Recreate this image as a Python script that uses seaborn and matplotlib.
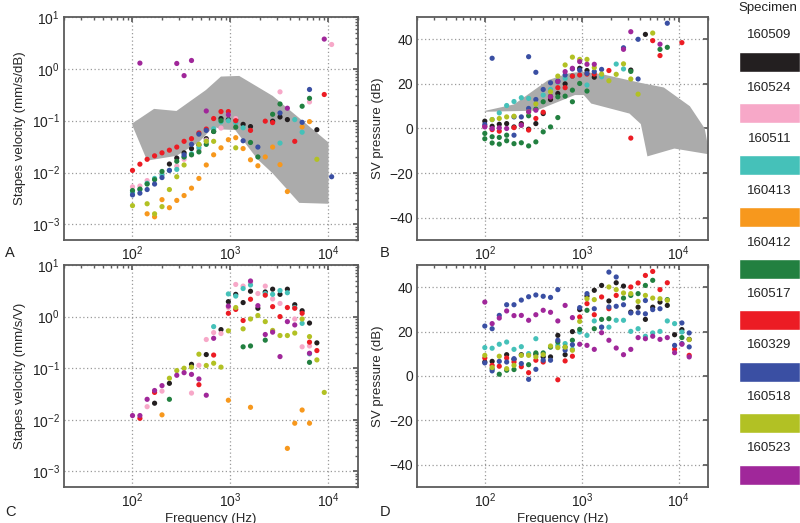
import numpy as np
import pandas as pd
import seaborn as sns
import matplotlib
matplotlib.use("Agg")
from matplotlib import pyplot as plt

# quarter-octave test frequencies (Hz)
freqs = [100, 119, 141, 168, 200, 238, 283, 336, 400, 476, 566, 673, 800, 951, 1131,
         1345, 1600, 1903, 2263, 2691, 3200, 3805, 4525, 5382, 6400, 7611, 9051, 10763, 12800]

specimens = ["160509", "160524", "160511", "160413", "160412",
             "160517", "160329", "160518", "160523"]
colors = ["#231f20", "#f7a8c8", "#45c1b9", "#f7981d", "#228040",
          "#ec1c24", "#3a4fa3", "#b2c124", "#a0279a"]

# values keyed by index into freqs
# --- A: stapes velocity (mm/s/dB)
a_160509 = {5: .0146, 6: .019, 7: .024, 8: .029, 9: .034, 10: .045, 11: .062, 12: .11, 13: .105,
            14: .105, 15: .085, 16: .077, 19: .098, 20: .118, 21: .105, 25: .067}
a_160524 = {0: .0053, 1: .0055, 2: .007, 4: .0095, 6: .0133, 7: .018, 8: .022, 9: .027, 10: .042,
            11: .068, 12: .072, 13: .13, 14: .11, 20: .36, 24: .23, 27: 2.95}
a_160511 = {0: .0041, 1: .0047, 2: .0062, 3: .0077, 4: .009, 5: .011, 6: .0115, 7: .02, 8: .023,
            9: .03, 10: .04, 11: .07, 12: .095, 13: .1, 14: .09, 15: .073, 20: .037, 22: .105, 23: .06}
a_160413 = {2: .0016, 3: .0014, 4: .003, 5: .0021, 6: .0029, 7: .0036, 8: .005, 9: .0077, 10: .014,
            11: .022, 12: .03, 13: .043, 14: .047, 15: .029, 16: .0176, 17: .0135, 18: .02, 19: .031,
            20: .0142, 21: .0043, 23: .076, 24: .096}
a_160412 = {0: .0045, 1: .0048, 2: .006, 3: .0073, 4: .0105, 6: .0165, 7: .02, 8: .022, 9: .025,
            10: .035, 11: .062, 12: .1, 14: .075, 16: .038, 17: .02, 19: .133, 20: .21, 23: .19, 24: .27}
a_160517 = {0: .011, 1: .0145, 2: .018, 3: .021, 4: .024, 5: .027, 6: .031, 7: .040, 8: .045,
            9: .058, 10: .069, 11: .11, 12: .15, 13: .15, 14: .10, 16: .065, 18: .098, 19: .092,
            22: .04, 26: .32}
a_160329 = {0: .0037, 1: .004, 2: .0047, 3: .006, 4: .008, 5: .011, 7: .022, 8: .035, 9: .055,
            10: .065, 15: .041, 17: .031, 20: .141, 23: .093, 24: .40, 27: .0083}
a_160518 = {0: .0023, 2: .0025, 3: .0016, 4: .0022, 5: .0047, 6: .0083, 7: .014, 9: .035, 10: .04,
            11: .04, 14: .03, 25: .018}
a_160523 = {1: 1.29, 6: 1.27, 7: .74, 8: 1.45, 10: .154, 13: .13, 21: .174, 26: 3.75}

band_a_up_f = [100, 166, 281, 561, 799, 1228, 2700, 10000]
band_a_up = [.089, .169, .154, .39, .71, .73, .30, .038]
band_a_lo_f = [100, 141, 281, 480, 673, 800, 1117, 1340, 1890, 2700, 5030, 10000]
band_a_lo = [.08, .017, .021, .039, .077, .068, .066, .042, .018, .0096, .0026, .0025]

# --- B: SV pressure (dB re sound)
b_160509 = {0: 3.3, 1: 1.0, 2: 1.9, 3: 2.2, 4: 0.7, 5: 2.2, 6: -0.3, 7: 2.2, 8: 6.7, 9: 13, 10: 15.7,
            11: 20, 12: 23.5, 13: 27, 14: 26, 15: 23, 20: 26.2, 22: 42.2}
b_160511 = {1: 4.0, 2: 7.0, 3: 10.3, 4: 12.1, 5: 13.8, 6: 13.5, 8: 15, 9: 17.5, 10: 20.8, 11: 22.5,
            12: 23.5, 13: 24, 14: 19.5, 16: 23.2, 18: 28.9, 19: 26.7}
b_160412 = {0: -2.2, 1: -3.7, 2: -4, 3: -3, 6: 5.7, 7: 8.7, 8: 12, 9: 14.5, 10: 14.2, 11: 14.5,
            12: 17.2, 13: 20.2, 14: 16.8, 20: 25.6, 24: 35.5, 25: 36.4}
b_160412_2 = {0: -4.6, 1: -6.5, 2: -7.0, 3: -5.5, 4: -6.8, 5: -6.4, 6: -7.8, 7: -6, 8: -1.5,
              9: 0.7, 10: 4.9, 12: 12}
b_160517 = {0: 1.0, 1: -0.5, 2: -1.2, 4: 0.4, 5: 1.5, 6: -0.7, 7: 4.5, 8: 7.3, 9: 14.2, 10: 18.3,
            11: 18.3, 12: 23.5, 13: 24, 14: 24.4, 15: 24.4, 17: 26, 20: -4.3, 23: 39.4, 24: 32.7, 27: 38.5}
b_160329 = {0: 1.8, 4: 5.2, 5: 5.2, 6: 9, 7: 13, 8: 17.5, 9: 20.5, 10: 21.3, 11: 24, 12: 26.7,
            13: 26.2, 14: 24.7, 15: 25.5, 16: 26.5, 19: 36.2, 21: 40, 25: 47.2}
b_160329_2 = {1: 31.5, 4: -3, 6: 32.2, 7: 25.2, 21: 22.2}
b_160518 = {1: 4, 2: 4.5, 3: 5.2, 4: 5.5, 6: 7.5, 7: 11, 9: 16.5, 10: 23.5, 11: 28.5, 12: 32, 13: 31,
            14: 31, 15: 27.3, 16: 24.4, 17: 21.4, 18: 24.3, 19: 29, 20: 22.2, 21: 15.4, 23: 42.8}
b_160523 = {0: 0.7, 1: 0, 2: 0.3, 3: 0, 5: 1.5, 6: 7.5, 7: 8.2, 9: 14.2, 10: 21, 11: 25.5, 12: 27,
            13: 30, 14: 28.8, 15: 28.8, 19: 35.5, 20: 43.4, 24: 37.8}

band_b_up_f = [100, 200, 450, 730, 1000, 1600, 4000, 7000, 13000, 18500, 20000]
band_b_up = [7.9, 10.8, 21.7, 24.7, 25.5, 24.4, 20.5, 18.4, 10, 0, -8]
band_b_lo_f = [100, 340, 850, 1050, 1250, 3100, 4060, 4750, 9000, 20000]
band_b_lo = [7.5, 8, 15, 15, 11.2, 6.7, 2, -12.5, -9, -11.5]

# --- C: stapes velocity (mm/s/V)
c_160509 = {3: .021, 5: .051, 8: .119, 10: .184, 12: .56, 13: 1.95, 14: 2.7, 15: 1.87, 16: 3.1,
            17: 1.45, 18: 3.0, 19: 3.4, 20: 2.7, 21: 3.4, 22: 1.7, 23: 1.3, 24: .75, 25: .31}
c_160524 = {2: .018, 4: .036, 8: .033, 9: .114, 10: .36, 11: .49, 12: .47, 13: 1.5, 14: 4.2, 15: 3.9,
            16: 4.6, 17: 2.8, 18: 3.9, 19: 2.2, 20: 1.8, 22: .9, 23: .26, 24: .27}
c_160511 = {11: .64, 13: 2.75, 14: 2.5, 15: 3.5, 16: 4.1, 18: 2.8, 19: 2.7, 20: 3.2, 21: 2.9,
            22: 1.5, 23: .74, 24: .19}
c_160413 = {4: .0125, 13: .024, 16: .0175, 21: .0028, 22: .0086, 23: .0155, 24: .0086}
c_160412 = {5: .025, 15: .26, 16: .27, 18: .35, 24: .13}
c_160517 = {1: .0107, 3: .034, 9: .048, 11: .18, 13: 1.16, 14: 1.38, 15: .84, 16: 2.17, 18: 2.6,
            19: 1.56, 20: 1.0, 21: 1.5, 22: 1.45, 23: 1.16, 24: .32, 25: .22}
c_160518 = {5: .064, 6: .09, 7: .1, 8: .105, 9: .187, 10: .113, 11: .125, 12: .105, 13: .53,
            14: 1.5, 15: .58, 16: .9, 17: 1.05, 18: .8, 19: .54, 20: .43, 21: .43, 22: .48, 23: .9,
            24: .41, 25: .145, 26: .034}
c_160523 = {0: .0121, 1: .0121, 2: .025, 3: .037, 4: .046, 6: .073, 7: .082, 8: .076, 9: .062,
            10: .030, 11: .38, 13: 1.6, 16: 4.9, 17: 1.63, 18: .45, 19: .5, 20: .168, 21: .8,
            22: .69, 24: .195}

# --- D: SV pressure (dB re stimulation)
d_160509 = {0: 6.3, 1: 6.6, 3: 9.6, 4: 7.5, 5: 9.6, 7: 9.8, 8: 8.6, 9: 8.6, 10: 18.3, 11: 9.6,
            12: 20, 13: 29.9, 14: 36, 15: 38.6, 16: 40.8, 17: 33.8, 18: 42, 19: 40.5, 20: 28.8,
            21: 31, 22: 25.5, 23: 31, 24: 33.3, 25: 31.8, 26: 18.6, 27: 20.9, 28: 16.5}
d_160511 = {0: 12.8, 1: 12.5, 2: 14.3, 3: 15.3, 4: 12, 5: 13.2, 6: 10.1, 7: 16.8, 10: 13.8,
            11: 14.6, 12: 12, 13: 19.8, 14: 18.3, 15: 24.8, 16: 22, 17: 22, 18: 25.1, 19: 25.1,
            20: 20.1, 21: 21.3, 22: 17.9, 23: 19.4, 24: 20.1, 25: 24.8, 26: 23.6, 27: 19.8}
d_160412 = {1: 3.2, 2: 0.8, 3: 2.6, 4: 2.9, 6: 5.1, 7: 10.4, 8: 10.4, 9: 13, 10: 15.3, 11: 13,
            12: 16.1, 13: 21, 14: 29.6, 15: 21.3, 16: 25.5, 17: 25.8, 19: 35.1, 20: 36.3, 21: 37.1,
            22: 40.8, 23: 43.1, 25: 34.4, 27: 17.3}
d_160517 = {0: 8.1, 1: 4.8, 2: 4.4, 3: 8.1, 4: 6.3, 5: 4.2, 6: 1.5, 7: 7.1, 8: 6.3, 10: -1.7,
            11: 6.8, 12: 8.9, 13: 26.6, 14: 32.6, 15: 27.6, 16: 35.6, 17: 30.3, 18: 36.3, 20: 40.1,
            21: 41.9, 22: 45.3, 23: 47.1, 24: 38.9, 25: 42, 26: 12, 28: 9.3}
d_160329 = {0: 22.5, 1: 21.3, 2: 27.3, 3: 32.1, 4: 32.1, 5: 34.2, 6: 35.7, 7: 36.5, 8: 35.9,
            9: 35.4, 10: 38.9, 13: 30.8, 14: 37.1, 17: 46.8, 18: 44.6, 19: 32.1, 22: 34, 23: 29.9,
            24: 30.3, 26: 13.8, 27: 23.9, 28: 19.4}
d_160329_2 = {0: 5.9, 1: 2.3, 2: 6.6, 3: 6.3, 4: 7.8, 5: 5.6, 6: -1.5, 7: 3.0, 8: 7.1, 9: 7.1,
              10: 16.1, 11: 11.6, 12: 14.1, 15: 30.3, 16: 22, 17: 31.1, 18: 31.4, 20: 28.4,
              21: 28.5, 22: 28, 27: 14.6, 28: 13.1}
d_160518 = {0: 9.3, 1: 3.8, 2: 8.9, 3: 3.3, 4: 4.8, 5: 9.3, 6: 9.3, 7: 8.6, 8: 9.6, 9: 13.5,
            10: 12.8, 11: 13, 12: 11.6, 13: 24.6, 14: 34.8, 15: 34.4, 17: 40.1, 18: 38.9, 19: 37.4,
            20: 37.1, 21: 33.6, 22: 36.3, 23: 35.1, 24: 34.8, 25: 34.1, 28: 16.4}
d_160523 = {0: 33.3, 1: 23.6, 2: 26.1, 3: 29.3, 4: 27.2, 5: 27.3, 6: 25.1, 7: 27.6, 8: 29.6,
            9: 28.7, 10: 24.8, 11: 31.8, 12: 26.3, 13: 14.3, 14: 13.8, 15: 12, 16: 19.5, 17: 16.1,
            18: 12.6, 19: 9.6, 20: 12, 21: 17.3, 22: 16.8, 23: 17.9, 24: 16.5, 25: 17.3, 26: 10.5,
            27: 14.3, 28: 8.6}

panel_a = [("160509", a_160509), ("160524", a_160524), ("160511", a_160511), ("160413", a_160413),
           ("160412", a_160412), ("160517", a_160517), ("160329", a_160329), ("160518", a_160518),
           ("160523", a_160523)]
panel_b = [("160509", b_160509), ("160511", b_160511), ("160412", b_160412), ("160412", b_160412_2),
           ("160517", b_160517), ("160329", b_160329), ("160329", b_160329_2), ("160518", b_160518),
           ("160523", b_160523)]
panel_c = [("160509", c_160509), ("160524", c_160524), ("160511", c_160511), ("160413", c_160413),
           ("160412", c_160412), ("160517", c_160517), ("160518", c_160518), ("160523", c_160523)]
panel_d = [("160509", d_160509), ("160511", d_160511), ("160412", d_160412), ("160517", d_160517),
           ("160329", d_160329), ("160329", d_160329_2), ("160518", d_160518), ("160523", d_160523)]


def to_long(series):
    rows = []
    for spec, vals in series:
        for i, v in vals.items():
            rows.append({"specimen": spec, "f": freqs[i], "v": v})
    return pd.DataFrame(rows)


sns.set_theme(style="white")
plt.rcParams["font.family"] = ["Liberation Sans", "DejaVu Sans"]
plt.rcParams["axes.unicode_minus"] = True

pal = dict(zip(specimens, colors))
W, H = 800, 523
fig = plt.figure(figsize=(8, 5.23), dpi=100)


def px_axes(l, t, r, b):
    return fig.add_axes([l / W, 1 - b / H, (r - l) / W, (b - t) / H])


ax_a = px_axes(64, 17, 358, 240)
ax_b = px_axes(417, 17, 708, 240)
ax_c = px_axes(64, 265, 358, 487)
ax_d = px_axes(417, 265, 708, 487)

fs = 9.5
tfs = 10
for ax, series, logy in [(ax_a, panel_a, True), (ax_b, panel_b, False),
                         (ax_c, panel_c, True), (ax_d, panel_d, False)]:
    df = to_long(series)
    sns.scatterplot(data=df, x="f", y="v", hue="specimen", palette=pal, s=14,
                    linewidth=0, legend=False, ax=ax, zorder=3)
    ax.set_xscale("log")
    ax.set_xlim(20, 20000)
    if logy:
        ax.set_yscale("log")
        ax.set_ylim(5e-4, 10)
    else:
        ax.set_ylim(-50, 50)
        ax.set_yticks([-40, -20, 0, 20, 40])
    ax.grid(True, which="major", ls=(0, (1, 2)), color="#9a9a9a", lw=0.9)
    ax.set_axisbelow(True)
    for sp in ax.spines.values():
        sp.set_color("#5c5c5c")
        sp.set_linewidth(1.3)
    ax.tick_params(which="both", direction="in", top=True, right=True, labelsize=tfs,
                   colors="#5c5c5c", labelcolor="#222222", pad=3)
    ax.tick_params(which="major", length=3.5)
    ax.tick_params(which="minor", length=2)
    ax.set_xlabel("")
    ax.set_ylabel("")

# grey reference ranges
ax_a.fill(band_a_up_f + band_a_lo_f[::-1], band_a_up + band_a_lo[::-1],
          color="#ababab", lw=0, zorder=1)
ax_b.fill(band_b_up_f + band_b_lo_f[::-1], band_b_up + band_b_lo[::-1],
          color="#ababab", lw=0, zorder=1)

ax_a.set_ylabel("Stapes velocity (mm/s/dB)", fontsize=fs)
ax_b.set_ylabel("SV pressure (dB)", fontsize=fs)
ax_c.set_ylabel("Stapes velocity (mm/s/V)", fontsize=fs)
ax_d.set_ylabel("SV pressure (dB)", fontsize=fs)
ax_c.set_xlabel("Frequency (Hz)", fontsize=fs, labelpad=2)
ax_d.set_xlabel("Frequency (Hz)", fontsize=fs, labelpad=2)

for letter, x, y in [("A", 5, 253), ("B", 380, 253), ("C", 5, 512), ("D", 380, 512)]:
    fig.text(x / W, 1 - y / H, letter, fontsize=10.5, va="center", ha="left", color="#222222")

# specimen key on the right
ax_k = fig.add_axes([739 / W, 0, 61 / W, 1])
ax_k.set_xlim(0, 1)
ax_k.set_ylim(H, 0)
ax_k.axis("off")
box_mid = [62, 113, 165, 217, 268.5, 320, 372, 423, 474.5]
label_y = [35, 88, 139, 191, 243, 294, 345, 397, 448]
ax_k.barh(box_mid, width=1, height=20, left=0, color=colors)
for y, name in zip(label_y, specimens):
    ax_k.text(0.5, y, name, ha="center", va="center", fontsize=fs, color="#222222")
ax_k.text(0.47, 8, "Specimen", ha="center", va="center", fontsize=fs, color="#222222")

plt.savefig("out.png", dpi=100)
